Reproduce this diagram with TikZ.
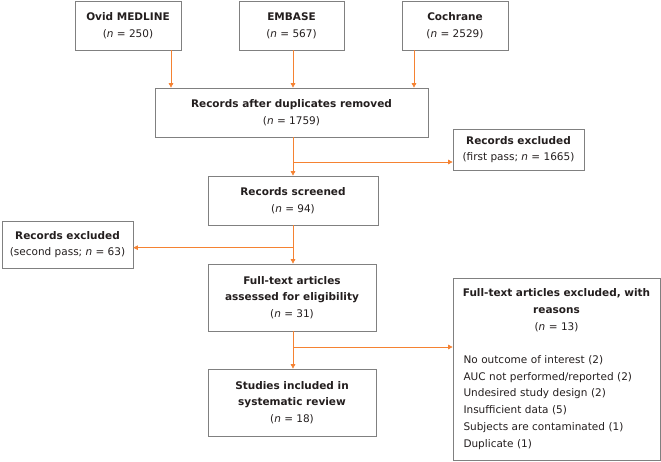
\documentclass[tikz,border=0pt]{standalone}
\usepackage{fontspec}
\setmainfont{DejaVu Sans}
\usetikzlibrary{arrows.meta}
\definecolor{arrorange}{RGB}{245,130,50}
\definecolor{boxgray}{RGB}{128,128,128}
\definecolor{txt}{RGB}{35,30,30}
\begin{document}
\begin{tikzpicture}[x=1pt,y=-1pt,
  box/.style={draw=boxgray, line width=0.7pt, align=center, inner sep=0pt, text=txt,
    font=\fontsize{10.5}{16.7}\selectfont},
  arr/.style={draw=arrorange, line width=0.7pt, -{Triangle[length=4.5pt,width=4.5pt]}}]
\useasboundingbox (0,0) rectangle (661,462);

\node[box, minimum width=106, minimum height=49] (ovid) at (128,25.5) {\textbf{Ovid MEDLINE}\\(\textit{n} = 250)};
\node[box, minimum width=105, minimum height=49] (embase) at (291.5,25.5) {\textbf{EMBASE}\\(\textit{n} = 567)};
\node[box, minimum width=106, minimum height=49] (cochrane) at (455,25.5) {\textbf{Cochrane}\\(\textit{n} = 2529)};
\node[box, minimum width=273, minimum height=49] (dup) at (291.5,112.5) {\textbf{Records after duplicates removed}\\(\textit{n} = 1759)};
\node[box, minimum width=131, minimum height=41] (excl1) at (518.5,149.5) {\textbf{Records excluded}\\(first pass; \textit{n} = 1665)};
\node[box, minimum width=170, minimum height=49] (screened) at (293,200.5) {\textbf{Records screened}\\(\textit{n} = 94)};
\node[box, minimum width=131, minimum height=47] (excl2) at (67.5,244.5) {\textbf{Records excluded}\\(second pass; \textit{n} = 63)};
\node[box, minimum width=168, minimum height=67] (full) at (292,297.5) {\textbf{Full-text articles}\\\textbf{assessed for eligibility}\\(\textit{n} = 31)};
\node[box, minimum width=168, minimum height=67] (studies) at (292,402.5) {\textbf{Studies included in}\\\textbf{systematic review}\\(\textit{n} = 18)};
\node[box, minimum width=207, minimum height=182, text width=203, align=left] (excl3) at (556.5,369)
  {\centering\textbf{Full-text articles excluded, with}\\\textbf{reasons}\\(\textit{n} = 13)\par
   \vspace{16.7pt}\raggedright\leftskip=8.5pt
   No outcome of interest (2)\\
   AUC not performed/reported (2)\\
   Undesired study design (2)\\
   Insufficient data (5)\\
   Subjects are contaminated (1)\\
   Duplicate (1)\par};

\coordinate (c1) at (171,0);
\coordinate (c2) at (293,0);
\coordinate (c3) at (414,0);
\coordinate (b1) at (293,162);
\coordinate (b2) at (293,247.7);
\coordinate (b3) at (293,347);

\draw[arr] (c1 |- ovid.south) -- (c1 |- dup.north);
\draw[arr] (c2 |- embase.south) -- (c2 |- dup.north);
\draw[arr] (c3 |- cochrane.south) -- (c3 |- dup.north);
\draw[arr] (c2 |- dup.south) -- (c2 |- screened.north);
\draw[arr] (b1) -- (b1 -| excl1.west);
\draw[arr] (c2 |- screened.south) -- (c2 |- full.north);
\draw[arr] (b2) -- (b2 -| excl2.east);
\draw[arr] (c2 |- full.south) -- (c2 |- studies.north);
\draw[arr] (b3) -- (b3 -| excl3.west);
\end{tikzpicture}
\end{document}
